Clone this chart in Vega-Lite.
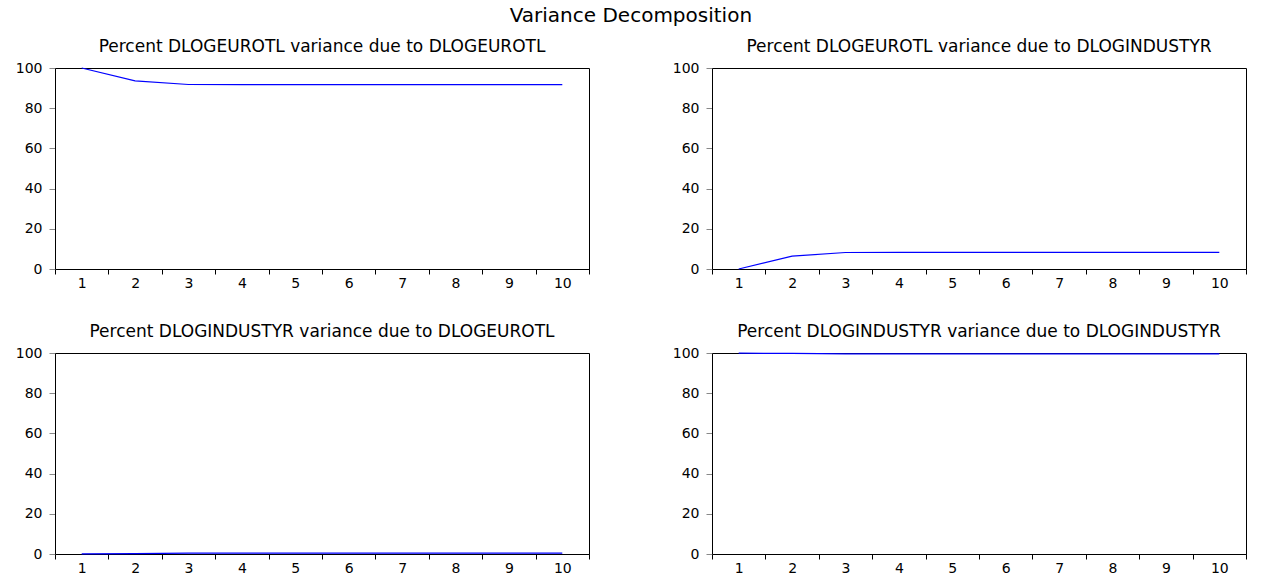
{
  "$schema": "https://vega.github.io/schema/vega-lite/v6.json",
  "background": "white",
  "padding": {"left": 14, "top": 5, "right": 5, "bottom": 5},
  "title": {
    "text": "Variance Decomposition",
    "fontSize": 20,
    "offset": 12,
    "anchor": "middle"
  },
  "datasets": {
    "eurotl_eurotl": [
      {"period": 1, "percent": 100.0},
      {"period": 2, "percent": 93.6},
      {"period": 3, "percent": 91.8},
      {"period": 4, "percent": 91.7},
      {"period": 5, "percent": 91.7},
      {"period": 6, "percent": 91.7},
      {"period": 7, "percent": 91.7},
      {"period": 8, "percent": 91.7},
      {"period": 9, "percent": 91.7},
      {"period": 10, "percent": 91.7}
    ],
    "eurotl_industyr": [
      {"period": 1, "percent": 0.0},
      {"period": 2, "percent": 6.4},
      {"period": 3, "percent": 8.2},
      {"period": 4, "percent": 8.3},
      {"period": 5, "percent": 8.3},
      {"period": 6, "percent": 8.3},
      {"period": 7, "percent": 8.3},
      {"period": 8, "percent": 8.3},
      {"period": 9, "percent": 8.3},
      {"period": 10, "percent": 8.3}
    ],
    "industyr_eurotl": [
      {"period": 1, "percent": 0.1},
      {"period": 2, "percent": 0.2},
      {"period": 3, "percent": 0.4},
      {"period": 4, "percent": 0.4},
      {"period": 5, "percent": 0.4},
      {"period": 6, "percent": 0.4},
      {"period": 7, "percent": 0.4},
      {"period": 8, "percent": 0.4},
      {"period": 9, "percent": 0.4},
      {"period": 10, "percent": 0.4}
    ],
    "industyr_industyr": [
      {"period": 1, "percent": 99.9},
      {"period": 2, "percent": 99.8},
      {"period": 3, "percent": 99.6},
      {"period": 4, "percent": 99.6},
      {"period": 5, "percent": 99.6},
      {"period": 6, "percent": 99.6},
      {"period": 7, "percent": 99.6},
      {"period": 8, "percent": 99.6},
      {"period": 9, "percent": 99.6},
      {"period": 10, "percent": 99.6}
    ]
  },
  "columns": 2,
  "spacing": {"row": 84, "column": 123},
  "bounds": "flush",
  "concat": [
    {
      "title": "Percent DLOGEUROTL variance due to DLOGEUROTL",
      "width": 534,
      "height": 201,
      "data": {"name": "eurotl_eurotl"},
      "mark": {"type": "line", "color": "#0000ff", "strokeWidth": 1.2},
      "encoding": {
        "x": {
          "field": "period", "type": "quantitative",
          "scale": {"domain": [0.5, 10.5], "nice": false, "zero": false},
          "axis": {
            "values": [0.5, 1, 1.5, 2, 2.5, 3, 3.5, 4, 4.5, 5, 5.5, 6, 6.5, 7, 7.5, 8, 8.5, 9, 9.5, 10, 10.5],
            "labelExpr": "datum.value % 1 === 0 ? format(datum.value, 'd') : ''",
            "tickColor": {"condition": {"test": "datum.value % 1 === 0", "value": "transparent"}, "value": "black"}
          }
        },
        "y": {
          "field": "percent", "type": "quantitative",
          "scale": {"domain": [0, 100], "nice": false},
          "axis": {"values": [0, 20, 40, 60, 80, 100]}
        }
      }
    },
    {
      "title": "Percent DLOGEUROTL variance due to DLOGINDUSTYR",
      "width": 534,
      "height": 201,
      "data": {"name": "eurotl_industyr"},
      "mark": {"type": "line", "color": "#0000ff", "strokeWidth": 1.2},
      "encoding": {
        "x": {
          "field": "period", "type": "quantitative",
          "scale": {"domain": [0.5, 10.5], "nice": false, "zero": false},
          "axis": {
            "values": [0.5, 1, 1.5, 2, 2.5, 3, 3.5, 4, 4.5, 5, 5.5, 6, 6.5, 7, 7.5, 8, 8.5, 9, 9.5, 10, 10.5],
            "labelExpr": "datum.value % 1 === 0 ? format(datum.value, 'd') : ''",
            "tickColor": {"condition": {"test": "datum.value % 1 === 0", "value": "transparent"}, "value": "black"}
          }
        },
        "y": {
          "field": "percent", "type": "quantitative",
          "scale": {"domain": [0, 100], "nice": false},
          "axis": {"values": [0, 20, 40, 60, 80, 100]}
        }
      }
    },
    {
      "title": "Percent DLOGINDUSTYR variance due to DLOGEUROTL",
      "width": 534,
      "height": 201,
      "data": {"name": "industyr_eurotl"},
      "mark": {"type": "line", "color": "#0000ff", "strokeWidth": 1.2},
      "encoding": {
        "x": {
          "field": "period", "type": "quantitative",
          "scale": {"domain": [0.5, 10.5], "nice": false, "zero": false},
          "axis": {
            "values": [0.5, 1, 1.5, 2, 2.5, 3, 3.5, 4, 4.5, 5, 5.5, 6, 6.5, 7, 7.5, 8, 8.5, 9, 9.5, 10, 10.5],
            "labelExpr": "datum.value % 1 === 0 ? format(datum.value, 'd') : ''",
            "tickColor": {"condition": {"test": "datum.value % 1 === 0", "value": "transparent"}, "value": "black"}
          }
        },
        "y": {
          "field": "percent", "type": "quantitative",
          "scale": {"domain": [0, 100], "nice": false},
          "axis": {"values": [0, 20, 40, 60, 80, 100]}
        }
      }
    },
    {
      "title": "Percent DLOGINDUSTYR variance due to DLOGINDUSTYR",
      "width": 534,
      "height": 201,
      "data": {"name": "industyr_industyr"},
      "mark": {"type": "line", "color": "#0000ff", "strokeWidth": 1.2},
      "encoding": {
        "x": {
          "field": "period", "type": "quantitative",
          "scale": {"domain": [0.5, 10.5], "nice": false, "zero": false},
          "axis": {
            "values": [0.5, 1, 1.5, 2, 2.5, 3, 3.5, 4, 4.5, 5, 5.5, 6, 6.5, 7, 7.5, 8, 8.5, 9, 9.5, 10, 10.5],
            "labelExpr": "datum.value % 1 === 0 ? format(datum.value, 'd') : ''",
            "tickColor": {"condition": {"test": "datum.value % 1 === 0", "value": "transparent"}, "value": "black"}
          }
        },
        "y": {
          "field": "percent", "type": "quantitative",
          "scale": {"domain": [0, 100], "nice": false},
          "axis": {"values": [0, 20, 40, 60, 80, 100]}
        }
      }
    }
  ],
  "config": {
    "font": "DejaVu Sans",
    "view": {"stroke": "black", "strokeWidth": 1},
    "axis": {
      "title": null,
      "grid": false,
      "domainColor": "black",
      "domainWidth": 1,
      "tickWidth": 1,
      "labelColor": "black",
      "labelFont": "DejaVu Sans",
      "labelFontSize": 14,
      "labelOverlap": false,
      "labelFlush": false
    },
    "axisX": {"tickSize": 5, "labelPadding": 2},
    "axisY": {"tickSize": 6, "labelPadding": 7},
    "title": {
      "font": "DejaVu Sans",
      "fontSize": 17,
      "fontWeight": "normal",
      "color": "black",
      "offset": 5
    }
  }
}
